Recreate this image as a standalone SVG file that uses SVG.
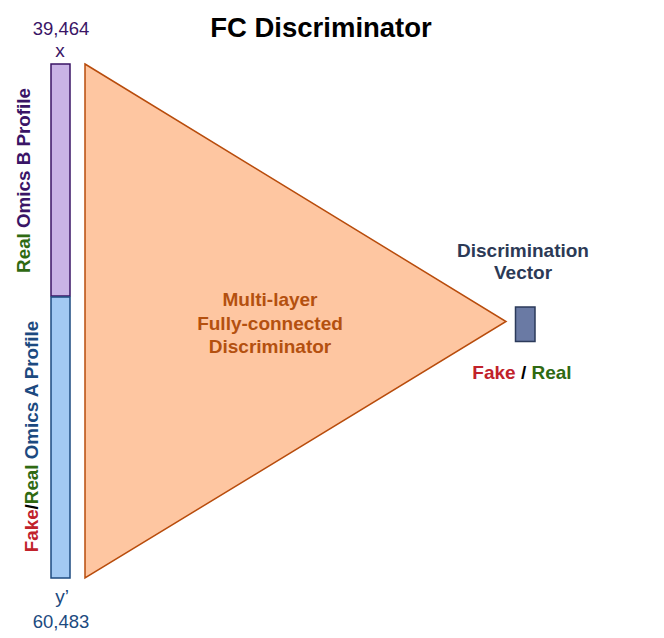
<svg xmlns="http://www.w3.org/2000/svg" width="664" height="638" viewBox="0 0 664 638">
<style>
text{font-family:"Liberation Sans",Arial,sans-serif;font-weight:bold}
text.n{font-weight:normal}
.red{fill:#c1222b}.green{fill:#2f6a12}
</style>
<rect width="664" height="638" fill="#fff"/>
<text x="321" y="37" font-size="27.5" text-anchor="middle" fill="#000">FC Discriminator</text>
<g id="omicsB">
<rect x="51" y="64" width="19" height="232" fill="#c9b3e6" stroke="#3a1466" stroke-width="1.5"/>
<text class="n" x="61" y="35" font-size="18.5" text-anchor="middle" fill="#3a1466">39,464</text>
<text class="n" x="60" y="57" font-size="19" text-anchor="middle" fill="#3a1466">x</text>
<text transform="translate(30,180.5) rotate(-90)" font-size="18.8" text-anchor="middle" fill="#3a1466"><tspan class="green">Real</tspan> Omics B Profile</text>
</g>
<g id="omicsA">
<rect x="51" y="297" width="19" height="281" fill="#a2c9f3" stroke="#1c4a80" stroke-width="1.5"/>
<text class="n" x="62" y="603" font-size="19" text-anchor="middle" fill="#1c4a80">y’</text>
<text class="n" x="61" y="628" font-size="18.5" text-anchor="middle" fill="#1c4a80">60,483</text>
<text transform="translate(38,436.5) rotate(-90)" font-size="18.8" text-anchor="middle" fill="#1c4a80"><tspan class="red">Fake</tspan><tspan fill="#000">/</tspan><tspan class="green">Real</tspan> Omics A Profile</text>
</g>
<g id="discriminator">
<polygon points="85,64 506,321.5 85,578" fill="#fec6a1" stroke="#b84c0c" stroke-width="1.5"/>
<text x="270" y="306" font-size="19" text-anchor="middle" fill="#b4500f">Multi-layer</text>
<text x="270" y="330" font-size="19" text-anchor="middle" fill="#b4500f">Fully-connected</text>
<text x="270" y="353" font-size="19" text-anchor="middle" fill="#b4500f">Discriminator</text>
</g>
<g id="vector">
<rect x="515.5" y="307" width="19.5" height="34.5" fill="#6a7aa4" stroke="#2b3a5a" stroke-width="1.5"/>
<text x="523" y="257" font-size="19" text-anchor="middle" fill="#2c3a56">Discrimination</text>
<text x="523" y="279" font-size="19" text-anchor="middle" fill="#2c3a56">Vector</text>
<text x="522" y="379" font-size="19" text-anchor="middle" fill="#000"><tspan class="red">Fake</tspan> / <tspan class="green">Real</tspan></text>
</g>
<g id="connectors"></g>
</svg>
